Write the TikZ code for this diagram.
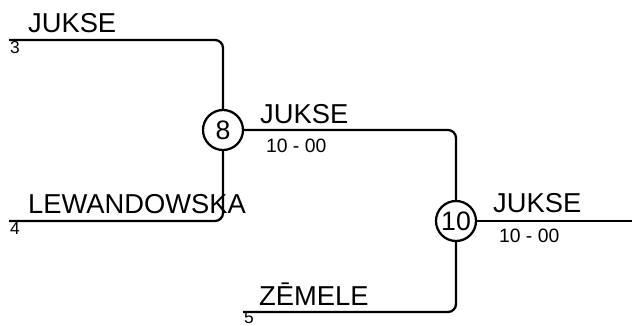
\documentclass[tikz,border=0pt]{standalone}
\usepackage{fontspec}
\setmainfont{Liberation Sans}
\usetikzlibrary{positioning}

\begin{document}
\begin{tikzpicture}[x=0.75pt, y=-0.75pt, line width=1.7pt,
  every node/.style={inner sep=0pt},
  match/.style={draw, circle, minimum size=30pt, font=\fontsize{20}{22}\selectfont},
  player/.style={anchor=base west, font=\fontsize{20.5}{22}\selectfont},
  seed/.style={anchor=base west, font=\fontsize{13}{14}\selectfont},
  score/.style={anchor=base west, font=\fontsize{14.5}{16}\selectfont},
  bracket/.style={rounded corners=6pt}]
\useasboundingbox (0,0) rectangle (632,325);
\draw
  node at (223,130)[match](m8){8}
  node at (456,221)[match](m10){10}
  coordinate (s3) at (9,40)
  coordinate (s4) at (9,221)
  coordinate (s5) at (243,312)
  coordinate (out) at (632,221);
% player names and seeds
\node[player] (p3) at (27,32) {JUKSE};
\node[seed] (n3) at (9,53) {3};
\node[player] (p4) at (27,213) {LEWANDOWSKA};
\node[seed] (n4) at (9,234) {4};
\node[player] (p5) at (258,305) {ZĒMELE};
\node[seed] (n5) at (243,323) {5};
% winners
\node[player] (w8) at (259,123) {JUKSE};
\node[score] (r8) at (265,152) {10 - 00};
\node[player] (w10) at (492,212) {JUKSE};
\node[score] (r10) at (498,242) {10 - 00};
% brackets
\draw[bracket] (s3) -| (m8);
\draw[bracket] (s4) -| (m8);
\draw[bracket] (m8) -| (m10);
\draw[bracket] (s5) -| (m10);
\draw (m10) -- (out);
\end{tikzpicture}
\end{document}
